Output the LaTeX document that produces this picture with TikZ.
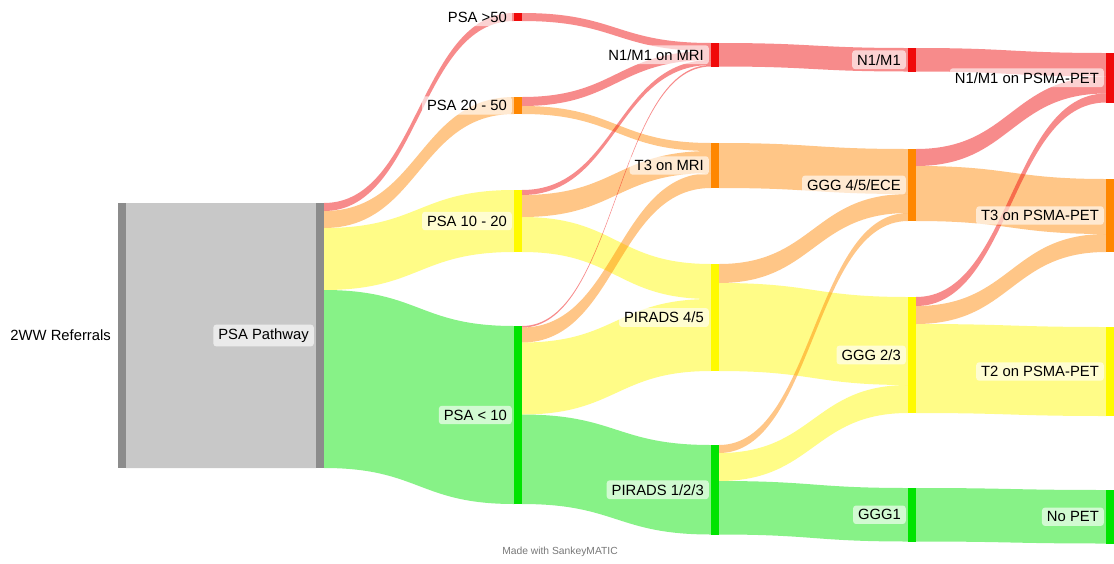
\documentclass[tikz,border=0pt]{standalone}
\usepackage{fontspec}
\setmainfont{Liberation Sans}
\usetikzlibrary{calc}
\definecolor{cgray}{RGB}{140,140,140}
\definecolor{cred}{RGB}{240,10,10}
\definecolor{cor}{RGB}{255,135,0}
\definecolor{cyel}{RGB}{255,250,0}
\definecolor{cgrn}{RGB}{0,228,0}
\definecolor{cfoot}{RGB}{120,120,120}
\tikzset{
  bar/.style={draw=none, inner sep=0pt, outer sep=0pt, minimum width=8pt, anchor=north west},
  lbl/.style={fill=white, fill opacity=0.62, text opacity=1, rounded corners=3pt,
              inner xsep=5pt, inner ysep=4pt, anchor=east, xshift=-2pt,
              font=\fontsize{14.8}{16}\selectfont, text=black},
  foot/.style={font=\fontsize{10.3}{12}\selectfont, text=cfoot, inner sep=0pt}
}
\newcommand{\flowband}[6]{%
  \fill[#1, fill opacity=0.47] let \p1=(#2.north east), \p2=(#4.north west), \n1={0.5*(\x1+\x2)} in
  (\x1,\y1-#3pt) .. controls (\n1,\y1-#3pt) and (\n1,\y2-#5pt) .. (\x2,\y2-#5pt)
  -- (\x2,\y2-#5pt-#6pt) .. controls (\n1,\y2-#5pt-#6pt) and (\n1,\y1-#3pt-#6pt) .. (\x1,\y1-#3pt-#6pt) -- cycle;}
\begin{document}
\begin{tikzpicture}[x=1pt,y=-1pt]
\fill[white] (0,0) rectangle (1114,563);
\useasboundingbox (0,0) rectangle (1114,563);
% bars
\node[bar, fill=cgray, minimum height=265pt] (w2) at (118,203) {};
\node[bar, fill=cgray, minimum height=265pt] (pp) at (316,203) {};
\node[bar, fill=cred, minimum height=8pt] (p50) at (514,13) {};
\node[bar, fill=cor, minimum height=17pt] (p2050) at (514,97) {};
\node[bar, fill=cyel, minimum height=62pt] (p1020) at (514,190) {};
\node[bar, fill=cgrn, minimum height=178pt] (p10) at (514,326) {};
\node[bar, fill=cred, minimum height=23.5pt] (nmri) at (711,43) {};
\node[bar, fill=cor, minimum height=45pt] (t3mri) at (711,143) {};
\node[bar, fill=cyel, minimum height=107pt] (pir45) at (711,264) {};
\node[bar, fill=cgrn, minimum height=89.5pt] (pir123) at (711,445) {};
\node[bar, fill=cred, minimum height=23.5pt] (n1m1) at (908,48) {};
\node[bar, fill=cor, minimum height=72pt] (ggg45) at (908,149) {};
\node[bar, fill=cyel, minimum height=116pt] (ggg23) at (908,297) {};
\node[bar, fill=cgrn, minimum height=53.5pt] (ggg1) at (908,488) {};
\node[bar, fill=cred, minimum height=49.5pt] (npet) at (1106,53) {};
\node[bar, fill=cor, minimum height=73pt] (t3pet) at (1106,179) {};
\node[bar, fill=cyel, minimum height=89pt] (t2pet) at (1106,327) {};
\node[bar, fill=cgrn, minimum height=53.5pt] (nopet) at (1106,490) {};
% flows
\flowband{cgray}{w2}{0}{pp}{0}{265}
\flowband{cred}{pp}{0}{p50}{0}{8}
\flowband{cor}{pp}{8}{p2050}{0}{17}
\flowband{cyel}{pp}{25}{p1020}{0}{62}
\flowband{cgrn}{pp}{87}{p10}{0}{178}
\flowband{cred}{p50}{0}{nmri}{0}{8}
\flowband{cred}{p2050}{0}{nmri}{8}{9}
\flowband{cor}{p2050}{9}{t3mri}{0}{8}
\flowband{cred}{p1020}{0}{nmri}{17}{5}
\flowband{cor}{p1020}{5}{t3mri}{8}{22}
\flowband{cyel}{p1020}{27}{pir45}{0}{35}
\flowband{cred}{p10}{0}{nmri}{22}{1.5}
\flowband{cor}{p10}{1.5}{t3mri}{30}{15}
\flowband{cyel}{p10}{16.5}{pir45}{35}{72}
\flowband{cgrn}{p10}{88.5}{pir123}{0}{89.5}
\flowband{cred}{nmri}{0}{n1m1}{0}{23.5}
\flowband{cor}{t3mri}{0}{ggg45}{0}{45}
\flowband{cor}{pir45}{0}{ggg45}{45}{19}
\flowband{cyel}{pir45}{19}{ggg23}{0}{88}
\flowband{cor}{pir123}{0}{ggg45}{64}{8}
\flowband{cyel}{pir123}{8}{ggg23}{88}{28}
\flowband{cgrn}{pir123}{36}{ggg1}{0}{53.5}
\flowband{cred}{n1m1}{0}{npet}{0}{23.5}
\flowband{cred}{ggg45}{0}{npet}{23.5}{17}
\flowband{cor}{ggg45}{17}{t3pet}{0}{55}
\flowband{cred}{ggg23}{0}{npet}{40.5}{9}
\flowband{cor}{ggg23}{9}{t3pet}{55}{18}
\flowband{cyel}{ggg23}{27}{t2pet}{0}{89}
\flowband{cgrn}{ggg1}{0}{nopet}{0}{53.5}
% redraw bars on top
\foreach \b/\c in {w2/cgray,pp/cgray,p50/cred,p2050/cor,p1020/cyel,p10/cgrn,nmri/cred,t3mri/cor,pir45/cyel,pir123/cgrn,n1m1/cred,ggg45/cor,ggg23/cyel,ggg1/cgrn,npet/cred,t3pet/cor,t2pet/cyel,nopet/cgrn}
  \fill[\c] (\b.north west) rectangle (\b.south east);
% labels
\node[lbl] (lw2) at (w2.west) {2WW Referrals};
\node[lbl] (lpp) at (pp.west) {PSA Pathway};
\node[lbl] (lp50) at (p50.west) {PSA >50};
\node[lbl] (lp2050) at (p2050.west) {PSA 20 - 50};
\node[lbl] (lp1020) at (p1020.west) {PSA 10 - 20};
\node[lbl] (lp10) at (p10.west) {PSA < 10};
\node[lbl] (lnmri) at (nmri.west) {N1/M1 on MRI};
\node[lbl] (lt3mri) at (t3mri.west) {T3 on MRI};
\node[lbl] (lpir45) at (pir45.west) {PIRADS 4/5};
\node[lbl] (lpir123) at (pir123.west) {PIRADS 1/2/3};
\node[lbl] (ln1m1) at (n1m1.west) {N1/M1};
\node[lbl] (lggg45) at (ggg45.west) {GGG 4/5/ECE};
\node[lbl] (lggg23) at (ggg23.west) {GGG 2/3};
\node[lbl] (lggg1) at (ggg1.west) {GGG1};
\node[lbl] (lnpet) at (npet.west) {N1/M1 on PSMA-PET};
\node[lbl] (lt3pet) at (t3pet.west) {T3 on PSMA-PET};
\node[lbl] (lt2pet) at (t2pet.west) {T2 on PSMA-PET};
\node[lbl] (lnopet) at (nopet.west) {No PET};
\node[foot] (made) at (560,552) {Made with SankeyMATIC};
\end{tikzpicture}
\end{document}
